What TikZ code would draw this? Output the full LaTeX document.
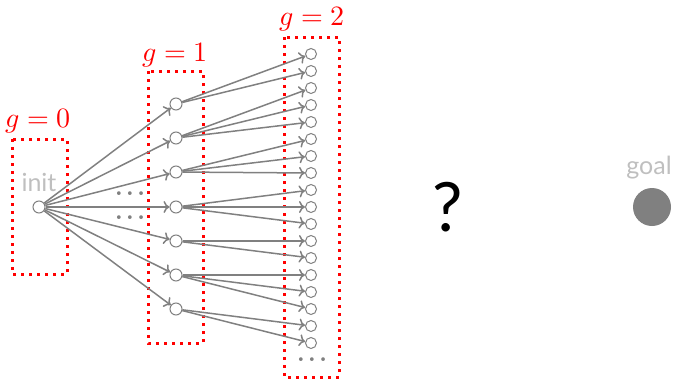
\documentclass[tikz,border=0pt]{standalone}
\usepackage{fontspec}
\usepackage{unicode-math}
\setmathfont{Latin Modern Math}
\setsansfont{Lato}
\usetikzlibrary{arrows.meta}
\begin{document}
\begin{tikzpicture}[x=1pt,y=-1pt,
  st/.style={circle,draw=gray,line width=1pt,fill=white,minimum size=12pt,inner sep=0pt},
  st2/.style={st,minimum size=11pt},
  edge/.style={draw=gray,line width=1.5pt,-{To[length=6pt,width=12pt]}},
  grp/.style={draw=red,line width=3pt,dash pattern=on 3pt off 5pt},
  glab/.style={text=red,inner sep=0pt,font=\fontsize{28}{32}\selectfont},
  lab/.style={text=black!25,inner sep=0pt,font=\sffamily\fontsize{25}{29}\selectfont},
  dotlab/.style={text=gray,inner sep=0pt,font=\bfseries\fontsize{26}{30}\selectfont}]
\useasboundingbox (0,0) rectangle (677,380);
% groups
\draw[grp] (12,139) rectangle (67,274);
\draw[grp] (148,71) rectangle (203,343);
\draw[grp] (284,37) rectangle (339,377);
\node[glab] (g0) at (38,121) {$g=0$};
\node[glab] (g1) at (175,55) {$g=1$};
\node[glab] (g2) at (312,19) {$g=2$};
% nodes
\node[st] (init) at (39,207) {};
\node[lab] (initlab) at (39,182) {init};
\foreach \i/\y in {1/104,2/138,3/172,4/207,5/241,6/275,7/309}
  \node[st] (a\i) at (176,\y) {};
\foreach \i in {1,...,18}
  \node[st2] (b\i) at (311,{54+17*(\i-1)}) {};
% edges
\foreach \i in {1,...,7}
  \draw[edge] (init) -- (a\i);
\foreach \a/\b in {1/1,1/2,2/3,2/4,2/5,3/6,3/7,3/8,4/9,4/10,4/11,5/12,5/13,6/14,6/15,6/16,7/17,7/18}
  \draw[edge] (a\a) -- (b\b);
% ellipses
\node[dotlab] (d1) at (130,194) {.\hspace{3pt}.\hspace{3pt}.};
\node[dotlab] (d2) at (130,218) {.\hspace{3pt}.\hspace{3pt}.};
\node[dotlab] (d3) at (312,360) {.\hspace{3pt}.\hspace{3pt}.};
% question and goal
\node[inner sep=0pt,font=\sffamily\fontsize{68}{80}\selectfont] (q) at (448,207) {?};
\node[circle,fill=gray,minimum size=38pt,inner sep=0pt] (goal) at (652,207) {};
\node[lab] (goallab) at (649,168) {goal};
\end{tikzpicture}
\end{document}
